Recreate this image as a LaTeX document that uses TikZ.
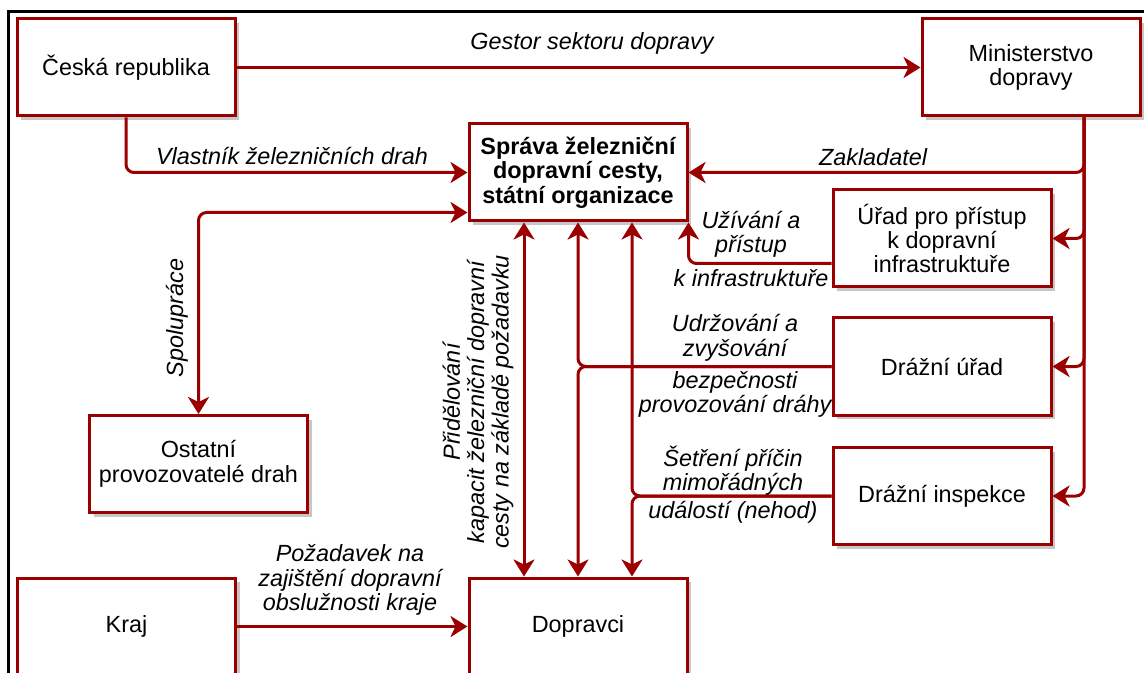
\documentclass[tikz,border=0pt]{standalone}
\usepackage{fontspec}
\setmainfont{Liberation Sans}
\usetikzlibrary{arrows.meta}
\usetikzlibrary{shadows}
\definecolor{drahared}{RGB}{155,0,0}

\begin{document}
\begin{tikzpicture} [x=0.5pt, y=-0.5pt,
  >={Stealth[length=8.5pt, width=10.5pt, inset=2.5pt]},
  box/.style={draw=drahared, line width=1.5pt, fill=white, minimum width=109pt, minimum height=48.5pt, align=center, inner sep=2pt, font=\fontsize{11.7}{12.2}\selectfont, drop shadow={shadow xshift=2pt, shadow yshift=-2pt, fill=black!22, opacity=1}},
  conn/.style={drahared, line width=1.5pt, rounded corners=4pt},
  lbl/.style={align=center, inner sep=1pt, font=\fontsize{11.7}{12.2}\selectfont\itshape}]
\useasboundingbox (0,0) rectangle (1144,673);
\clip (0,0) rectangle (1144,673);
\draw[black, line width=1.5pt] (1150,12) -- (8,12) -- (8,680);

\node[box] (cr) at (126,67.5) {Česká republika};
\node[box] (md) at (1031,67.5) {Ministerstvo\\dopravy};
\node[box, font=\fontsize{11.7}{12.2}\selectfont\bfseries] (szdc) at (578,172.5) {Správa železniční\\dopravní cesty,\\státní organizace};
\node[box] (upp) at (942,238.5) {Úřad pro přístup\\k dopravní\\infrastruktuře};
\node[box] (du) at (942,366.5) {Drážní úřad};
\node[box] (di) at (942,496) {Drážní inspekce};
\node[box] (opd) at (198.5,464) {Ostatní\\provozovatelé drah};
\node[box] (kraj) at (126.5,626.5) {Kraj};
\node[box] (dopr) at (578,626.5) {Dopravci};

\draw[conn, ->] (cr) -- (md);
\node[lbl] (gestor) at (592,43) {Gestor sektoru dopravy};

\draw[conn, ->] (cr.south) |- (szdc.west);
\node[lbl] (vlast) at (292,156) {Vlastník železničních drah};

\draw[conn, ->] ([xshift=26.5pt]md.south) |- (szdc.east);
\node[lbl] (zakl) at (873,157) {Zakladatel};
\draw[conn, ->] ([xshift=26.5pt]md.south) |- (upp.east);
\draw[conn, ->] ([xshift=26.5pt]md.south) |- (du.east);
\draw[conn, ->] ([xshift=26.5pt]md.south) |- (di.east);

\draw[conn, <->] ([yshift=-20pt]szdc.west) -| (opd.north);
\node[lbl, rotate=90] (spol) at (177,318) {Spolupráce};

\draw[conn, ->] ([yshift=-12.5pt]upp.west) -| (szdc.south east);
\node[lbl] (uziv) at (751,234.5) {Užívání a\\přístup};
\node[lbl] (kinf) at (751,278) {k infrastruktuře};

\draw[conn, <->] ([xshift=-27pt]szdc.south) -- ([xshift=-27pt]dopr.north);
\node[lbl, rotate=90] (prid) at (478,402) {Přidělování\\kapacit železniční dopravní\\cesty na základě požadavku};

\draw[conn, ->] (du.west) -| (szdc.south);
\draw[conn, ->] (du.west) -| (dopr.north);
\node[lbl] (udrz) at (735,338) {Udržování a\\zvyšování};
\node[lbl] (bezp) at (735,394.5) {bezpečnosti\\provozování dráhy};

\draw[conn, ->] (di.west) -| ([xshift=27pt]szdc.south);
\draw[conn, ->] (di.west) -| ([xshift=27pt]dopr.north);
\node[lbl] (setr) at (733,470.5) {Šetření příčin\\mimořádných};
\node[lbl] (udal) at (733,512) {událostí (nehod)};

\draw[conn, ->] (kraj) -- (dopr);
\node[lbl] (poz) at (350,580) {Požadavek na\\zajištění dopravní\\obslužnosti kraje};

\end{tikzpicture}
\end{document}
